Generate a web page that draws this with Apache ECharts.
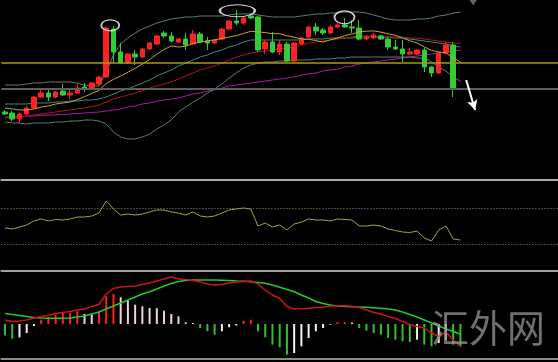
<!DOCTYPE html>
<html><head><meta charset="utf-8">
<script src="https://cdn.jsdelivr.net/npm/echarts/dist/echarts.min.js"></script>
<style>html,body{margin:0;padding:0;background:#000;}#c{width:558px;height:362px;}</style>
</head><body><div id="c"></div>
<script>
const N = 77;
const categories = Array.from({length: N}, (_, i) => 'K' + (i + 1));

// candles: [open, close, low, high]
const candles = [
[88,86,85,90],[87,81,79,89],[81,86,77,87],[86,92,85,94],[92,103,91,104],
[103,107,102,110],[107,103,99,110],[103,108,102,109],[109,105,104,116],[105,107,101,110],
[107,112,106,116],[113,111,108,117],[111,117,110,118],[116,123,115,124],[123,172,122,174],
[171,148,137,174],[148,137,136,157],[137,146,136,147],[146,143,135,150],[143,151,142,152],
[151,157,150,158],[156,164,155,165],[167,164,162,169],[164,159,158,168],[158,161,157,162],
[161,155,150,167],[156,166,155,170],[166,158,157,168],[159,157,150,163],[157,160,156,161],
[161,171,160,172],[171,179,170,180],[179,177,175,190],[177,182,175,184],[184,182,181,186],
[183,150,148,184],[151,158,146,160],[158,148,147,168],[148,156,145,160],[156,139,138,158],
[139,157,138,158],[156,162,155,163],[163,173,162,174],[173,169,165,177],[170,167,165,172],
[167,173,166,175],[173,175,172,177],[175,173,172,182],[173,172,167,180],[172,161,160,180],
[161,163,160,165],[162,165,161,167],[164,161,160,165],[161,153,150,163],[153,151,150,160],
[151,146,138,160],[146,148,145,152],[146,150,145,151],[150,133,128,152],[133,127,123,134],
[127,147,126,148],[147,155,146,158],[155,112,103,158]
];
const bbUpper = [115,115,115,116,117,117,118,118,118,118,117,115,114,114,128,145,156,162,167,171,174,177,179,181,182,183,183,184,184,184,184,185,186,186,186,185,184,183,183,183,183,184,185,186,186,187,187,188,188,188,187,185,183,181,180,180,180,181,181,182,184,185,187,188];
const bbMid = [96,96,96,96,97,97,97,98,98,99,99,100,100,101,103,106,109,111,114,117,120,124,127,130,134,137,140,143,145,148,150,153,155,158,160,160,160,160,160,160,160,160,161,161,161,162,162,162,162,163,163,163,163,163,162,162,161,160,159,158,157,156,154,153];
const bbLower = [78,77,77,76,77,77,77,78,78,79,79,80,80,79,76,68,63,61,61,63,66,71,75,80,88,93,98,102,107,111,116,122,127,132,135,137,138,138,139,139,140,140,140,141,141,141,142,142,143,143,143,143,143,143,143,143,143,142,142,138,133,129,123,119];
const ma10 = [92,91,90,90,91,93,94,96,97,98,100.4,103.4,106.5,109.6,116.5,120.6,124,127.8,131.6,136,140.5,145.8,150.5,154.1,153,153.7,156.6,157.8,159.2,160.1,161.5,163,164.3,166.6,168.7,168.2,167.4,166.4,166.3,164.2,162.8,161.1,160.7,159.4,157.9,160.2,161.9,164.4,166,168.2,168.8,169.1,167.9,166.3,164.7,162,159.3,157,153.1,149.7,148.1,147.1,142.2,138];
const maRed = [82,82.5,83,84,85,86,87,88,89,90,91,92,93.5,95,98,101,103,105,107,109,112,114,116,118,121,124,127,130,132,134,137,140,143,145,147,148,149,150,151,152,153,155,157,158,159,160,161,162,163,164,164,164,164,163,163,163,162,162,161,160,159,158,157,157];
const maPurple = [83,83,83.5,84,84,84.5,85,85,85.5,86,86.5,87,87.5,88,89,90,91,93,94,96,97,99,100,101,102,104,106,107,109,110,112,114,115,116,117,118,119,120,121,122,123,125,126,127,129,130,131,133,134,136,137,138,139,140,141,142,143,144,145,146,147,148,149,150];
const levelLines = [137, 111];
const rsi = [47.8,46.7,48.9,51.1,55.6,57.8,55.6,57.2,56.7,57.8,60,60,61.1,64.4,77.8,68.9,62.2,63.3,62.2,63.3,65.6,67.8,67.8,65.6,64.4,62.2,65.6,61.1,60,61.1,64.4,67.8,68.9,70,68.9,50,53.3,48.9,51.1,45.6,52.2,54.4,57.8,56.7,56.7,55.6,57.8,57.2,56.7,50,50,51.1,50,46.7,45,43.3,42.8,44.4,36.7,33.3,45.6,50,35.6,34.4];
const rsiLevels = [70, 30];
const macdDif = [4,2.5,3,4,6,7.5,8.5,10.5,11.5,12.5,14,15,17.5,19.5,30,35.5,37,37.5,38,39.5,41,43,45,47,45,44.5,43.5,42,40,39,39.5,41,42,42.5,43,40,34,29,25.5,17.5,15,15.2,15.7,16.5,17,17.7,18.2,18.3,17.7,16.5,14,11.5,10,7.5,5.5,2.5,-0.5,-2.5,-4,-9,-12.5,-8,-16,-22.5];
const macdDea = [10.5,9.5,8.5,7.5,6.5,6,5.7,5.7,5.7,6,7,8,10,12,15,18,21,24,27,30,32.3,35,38,40.5,42.5,43.5,44,44,44,44,43.7,43.4,43,42.7,42.2,41.5,40.7,39,36.7,34.5,32.3,29,26,22.5,20.5,19,18,17.5,17.3,17,16.7,16.3,15.7,15,14,12,9.5,7,4,1,-2,-5,-7.5,-10];
const macdHist = [-11.3,-14.7,-13.4,-9,-2,4.3,6.7,9.3,11,11,12.7,10,9.5,12.7,27.7,30,26.7,23.3,19.3,17.7,16,15.8,13.3,10,7.7,1.7,1,-4,-7.3,-10.7,-7.3,-3.3,-1.5,3.3,4.3,-7.3,-13.3,-20.7,-23.3,-30.7,-29,-22.3,-14,-7.3,-4,-0.7,2,2,1.5,-4,-6.7,-9,-10.7,-14,-15.7,-17.3,-18,-15.7,-20.7,-22.3,-19,-15.7,-20.7,-22.3];
// annotations (bar position, price)
const highlightMarks = [[14.56, 174.7], [32.14, 189.2], [46.96, 182.7]];
const arrowMark = [[63.8, 120], [65.03, 90]];

const ellipseSizes = [[18, 11], [35, 12], [20, 13]];
const chart = echarts.init(document.getElementById('c'), null, {renderer: 'canvas'});
const gridPos = {left: 1.4, width: 559};
const hiddenCat = (g, col) => ({type: 'category', gridIndex: g, data: categories, boundaryGap: true,
  axisLine: {show: true, onZero: false, lineStyle: {color: col, width: 2}},
  axisTick: {show: false}, axisLabel: {show: false}, splitLine: {show: false}});
const lineS = (data, color, z) => ({type: 'line', xAxisIndex: 0, yAxisIndex: 0, data, symbol: 'none',
  lineStyle: {color, width: 1}, z: z || 3, silent: true});
chart.setOption({
  backgroundColor: '#000',
  animation: false,
  grid: [
    Object.assign({top: 0, height: 180}, gridPos),
    Object.assign({top: 181, height: 90}, gridPos),
    Object.assign({top: 273, height: 86}, gridPos)
  ],
  xAxis: [
    hiddenCat(0, '#a9a9a9'),
    {type: 'value', gridIndex: 0, min: -0.5, max: N - 0.5, show: false},
    hiddenCat(1, '#a0a0a0'),
    hiddenCat(2, '#8c8c8c')
  ],
  yAxis: [
    {type: 'value', gridIndex: 0, min: 20, max: 200, show: false},
    {type: 'value', gridIndex: 1, min: 0, max: 100, show: false},
    {type: 'value', gridIndex: 2, min: -35, max: 51, show: false}
  ],
  series: [
    Object.assign(lineS(maPurple, '#a81ca8', 2), {
      markLine: {silent: true, symbol: 'none', label: {show: false},
        data: [
          {yAxis: levelLines[0], lineStyle: {color: '#a89a12', width: 1.5, type: 'solid'}},
          {yAxis: levelLines[1], lineStyle: {color: '#5e5e5e', width: 2, type: 'solid'}}
        ]}
    }),
    lineS(bbLower, '#5d7d70'),
    lineS(bbUpper, '#5d7d70'),
    lineS(bbMid, '#428a78'),
    lineS(maRed, '#b01818'),
    lineS(ma10, '#c8a03a', 4),
    {type: 'candlestick', xAxisIndex: 0, yAxisIndex: 0, data: candles, barWidth: 5, z: 3,
      itemStyle: {color: '#ff2020', color0: '#33cc33', borderColor: '#ff2020', borderColor0: '#33cc33', borderWidth: 1}},
    {type: 'scatter', xAxisIndex: 1, yAxisIndex: 0, z: 6, silent: true,
      data: highlightMarks.map((d, i) => ({value: d, symbolSize: ellipseSizes[i]})),
      symbol: 'circle',
      itemStyle: {color: 'rgba(0,0,0,0)', borderColor: '#ffffff', borderWidth: 1.5},
      markLine: {silent: true, symbol: ['none', 'arrow'], symbolSize: [8, 10], label: {show: false},
        lineStyle: {color: '#ffffff', width: 2, type: 'solid'},
        data: [[{coord: arrowMark[0]}, {coord: arrowMark[1]}]]}
    },
    {type: 'scatter', xAxisIndex: 1, yAxisIndex: 0, silent: true, data: [[64.76, 197.5]],
      symbol: 'triangle', symbolRotate: 180, symbolSize: [8, 6], itemStyle: {color: '#7a7a7a'}},
    {type: 'line', xAxisIndex: 2, yAxisIndex: 1, data: rsi, symbol: 'none', silent: true,
      lineStyle: {color: '#a8a23a', width: 1},
      markLine: {silent: true, symbol: 'none', label: {show: false},
        lineStyle: {color: '#8a8a8a', width: 1, type: [1, 2]},
        data: rsiLevels.map(v => ({yAxis: v}))}},
    {type: 'bar', xAxisIndex: 3, yAxisIndex: 2, data: macdHist, barWidth: 2, silent: true,
      itemStyle: {color: p => {
        const v = p.value, prev = p.dataIndex > 0 ? macdHist[p.dataIndex - 1] : 0;
        if (v >= 0) return v >= prev ? '#ff2020' : '#f2d2da';
        return v <= prev ? '#30c030' : '#f0f0f0';
      }}},
    {type: 'line', xAxisIndex: 3, yAxisIndex: 2, data: macdDea, symbol: 'none', silent: true, z: 4,
      lineStyle: {color: '#22cc22', width: 1.5}},
    {type: 'line', xAxisIndex: 3, yAxisIndex: 2, data: macdDif, symbol: 'none', silent: true, z: 4,
      lineStyle: {color: '#d01414', width: 1.5}}
  ],
  graphic: [{type: 'text', left: 431, top: 309, z: 100, silent: true,
    style: {text: '汇外网', fill: 'rgba(150,150,150,0.75)', font: '38px "Noto Sans CJK SC"'}}]
});
</script></body></html>
